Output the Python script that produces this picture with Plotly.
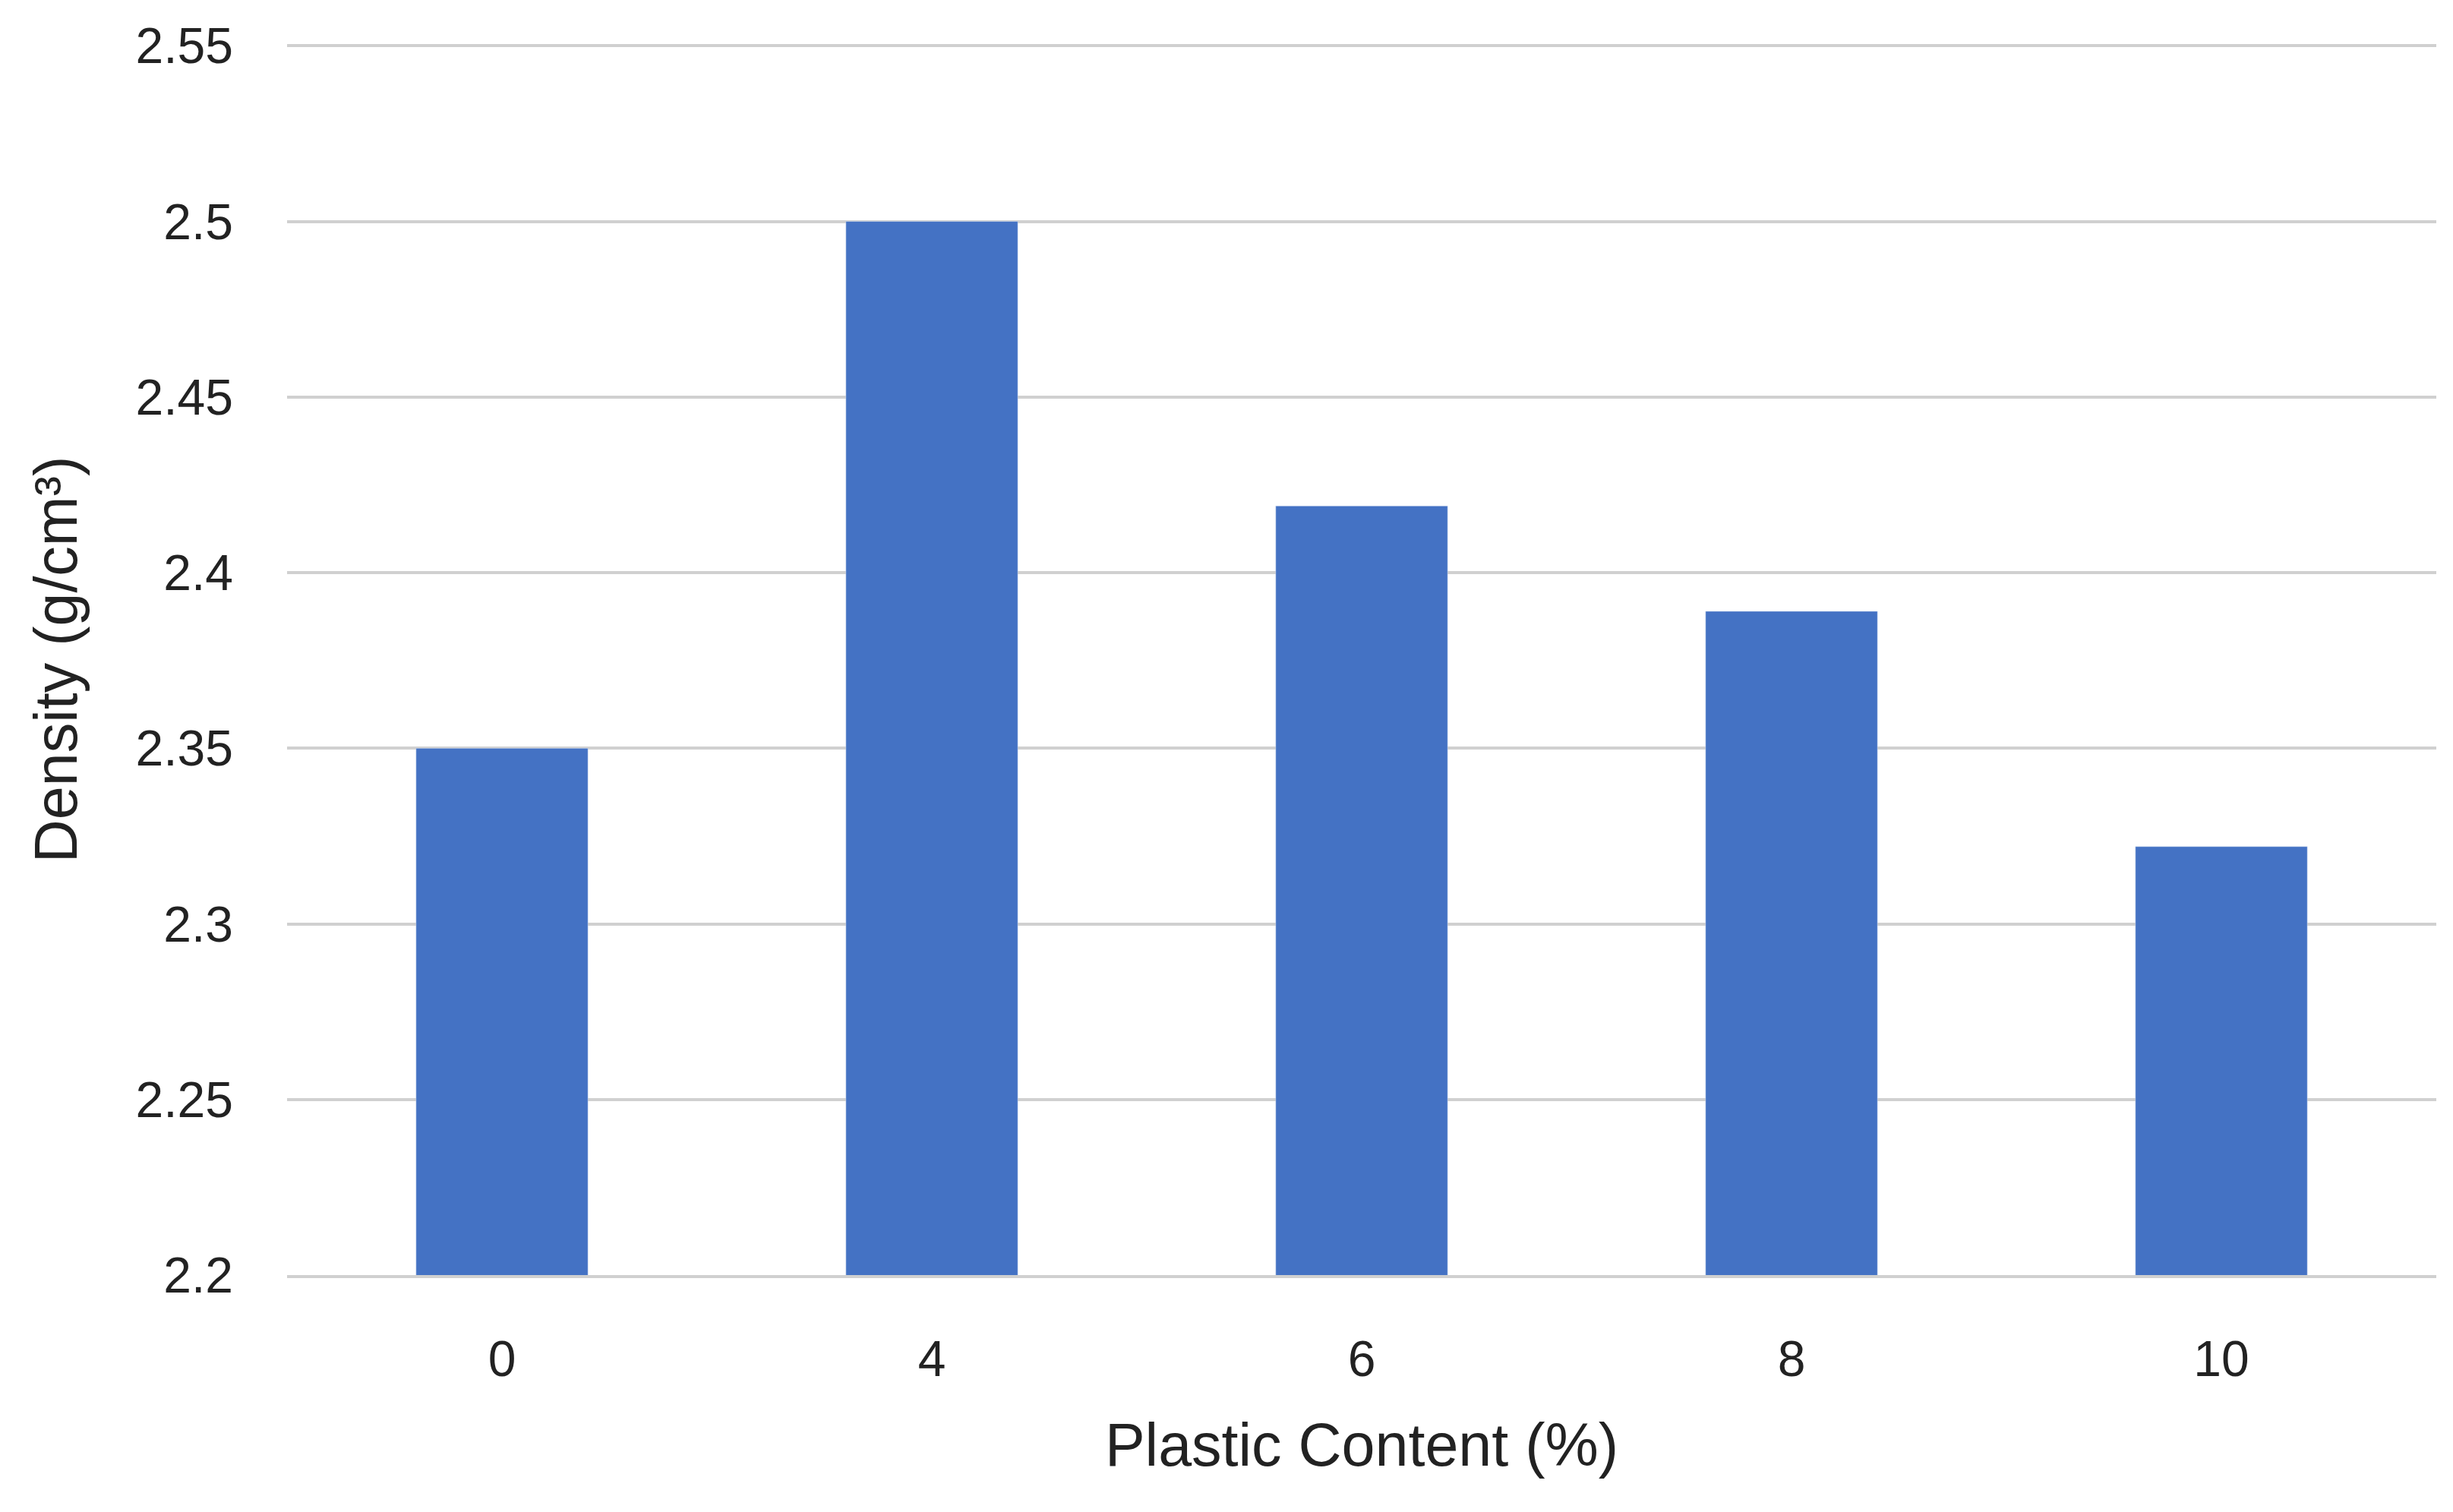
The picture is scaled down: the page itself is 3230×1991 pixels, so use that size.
import plotly.graph_objects as go

plastic = ['0', '4', '6', '8', '10']
density = [2.35, 2.50, 2.419, 2.389, 2.322]
y_ticks = [2.2, 2.25, 2.3, 2.35, 2.4, 2.45, 2.5, 2.55]

fig = go.Figure(go.Bar(x=plastic, y=density, marker_color='#4472C4'))

fig.update_layout(
    width=3230, height=1991,
    plot_bgcolor='white', paper_bgcolor='white',
    margin=dict(l=370, r=30, t=50, b=320),
    bargap=0.6,
    font=dict(family='Liberation Sans', size=66, color='#222222'),
    showlegend=False,
)
fig.update_xaxes(
    title_text='Plastic Content (%)', title_standoff=50,
    showline=True, linecolor='#d0d0d0', linewidth=4,
    ticks='', ticklabelstandoff=50,
)
fig.update_yaxes(
    title_text='Density (g/cm³)', title_standoff=50,
    range=[2.2, 2.5505], tickvals=y_ticks,
    ticktext=[f'{v:g}' for v in y_ticks],
    showgrid=True, gridcolor='#d0d0d0', gridwidth=4,
    zeroline=False, ticklabelstandoff=70,
)

fig.write_html("out.html")
